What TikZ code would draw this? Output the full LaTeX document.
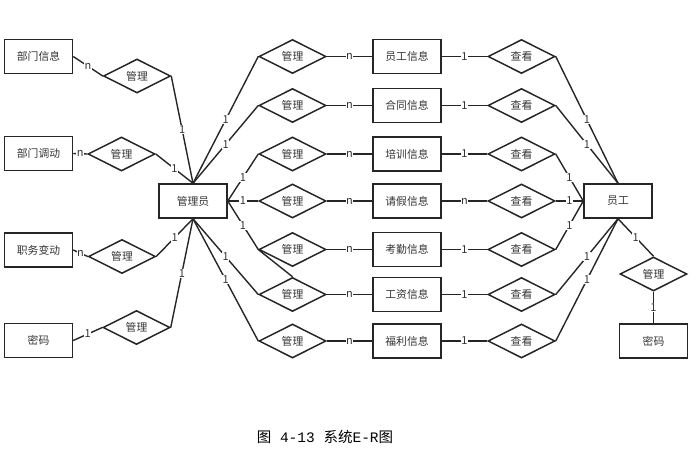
\documentclass[tikz,border=0pt]{standalone}
\usepackage{fontspec}
\setmainfont{Noto Sans CJK SC}
\newfontfamily\capmono{Liberation Mono}
\usetikzlibrary{shapes.geometric}
\definecolor{erline}{HTML}{262626}
\definecolor{ertext}{HTML}{333333}
\tikzset{
  entity/.style={draw=erline, line width=1.5pt, minimum width=68pt, minimum height=34pt,
    inner sep=0pt, text=ertext, font=\fontsize{10.8}{12}\selectfont},
  rel/.style={draw=erline, diamond, aspect=2, line width=1.5pt, minimum width=67pt,
    minimum height=34pt, inner sep=0pt, text=ertext, font=\fontsize{10.8}{12}\selectfont},
  card/.style={fill=white, inner sep=0.6pt, text=ertext, font=\fontsize{11}{12}\selectfont},
}
\begin{document}
\begin{tikzpicture}[x=1pt, y=-1pt, line width=1.4pt, draw=erline]
\useasboundingbox (0,0) rectangle (698,472);
% left side
\node[entity] (dept) at (38.5,56.5) {部门信息};
\node[entity] (trans) at (38.5,153.5) {部门调动};
\node[entity] (post) at (38.5,250) {职务变动};
\node[entity] (pwdA) at (38.5,340.5) {密码};
\node[rel] (rA) at (137,76) {管理};
\node[rel] (rB) at (121.5,154) {管理};
\node[rel] (rC) at (122,256.5) {管理};
\node[rel] (rD) at (136.5,327.5) {管理};
\node[entity] (admin) at (193,201) {管理员};
% middle column
\node[rel] (m1) at (292.5,56.5) {管理};
\node[rel] (m2) at (292.5,105.5) {管理};
\node[rel] (m3) at (292.5,154) {管理};
\node[rel] (m4) at (292.5,201) {管理};
\node[rel] (m5) at (292.5,249.5) {管理};
\node[rel] (m6) at (292.5,294.5) {管理};
\node[rel] (m7) at (292.5,341) {管理};
\node[entity] (e1) at (407,56.5) {员工信息};
\node[entity] (e2) at (407,105.5) {合同信息};
\node[entity] (e3) at (407,154) {培训信息};
\node[entity] (e4) at (407,201) {请假信息};
\node[entity] (e5) at (407,249.5) {考勤信息};
\node[entity] (e6) at (407,294.5) {工资信息};
\node[entity] (e7) at (407,341) {福利信息};
\node[rel] (v1) at (521.5,56.5) {查看};
\node[rel] (v2) at (521.5,105.5) {查看};
\node[rel] (v3) at (521.5,154) {查看};
\node[rel] (v4) at (521.5,201) {查看};
\node[rel] (v5) at (521.5,249.5) {查看};
\node[rel] (v6) at (521.5,294.5) {查看};
\node[rel] (v7) at (521.5,341) {查看};
% right side
\node[entity] (emp) at (618,201) {员工};
\node[rel] (rE) at (653.5,274) {管理};
\node[entity] (pwdB) at (653.5,341) {密码};
\node[text=black, font=\fontsize{14.5}{16}\selectfont] (caption) at (325,437)
  {图{\capmono\ 4-13 }系统{\capmono E-R}图};

\draw (dept.east) -- node[card] {n} (rA.west);
\draw (rA.east) -- node[card] {1} (admin.north);
\draw (trans.east) -- node[card] {n} (rB.west);
\draw (rB.east) -- node[card] {1} (admin.north);
\draw (post.east) -- node[card] {n} (rC.west);
\draw (rC.east) -- node[card] {1} (admin.south);
\draw (pwdA.east) -- node[card] {1} (rD.west);
\draw (rD.east) -- node[card] {1} (admin.south);

\draw (admin.north) -- node[card] {1} (m1.west);
\draw (admin.north) -- node[card] {1} (m2.west);
\draw (admin.east) -- node[card] {1} (m3.west);
\draw (admin.east) -- node[card] {1} (m4.west);
\draw (admin.east) -- node[card] {1} (m5.west);
\draw (m5.west) -- (m6.north);
\draw (admin.south) -- node[card] {1} (m6.west);
\draw (admin.south) -- node[card] {1} (m7.west);

\draw (m1.east) -- node[card] {n} (e1.west);
\draw (m2.east) -- node[card] {n} (e2.west);
\draw (m3.east) -- node[card] {n} (e3.west);
\draw (m4.east) -- node[card] {n} (e4.west);
\draw (m5.east) -- node[card] {n} (e5.west);
\draw (m6.east) -- node[card] {n} (e6.west);
\draw (m7.east) -- node[card] {n} (e7.west);

\draw (e1.east) -- node[card] {1} (v1.west);
\draw (e2.east) -- node[card] {1} (v2.west);
\draw (e3.east) -- node[card] {1} (v3.west);
\draw (e4.east) -- node[card] {n} (v4.west);
\draw (e5.east) -- node[card] {1} (v5.west);
\draw (e6.east) -- node[card] {1} (v6.west);
\draw (e7.east) -- node[card] {1} (v7.west);

\draw (v1.east) -- node[card] {1} (emp.north);
\draw (v2.east) -- node[card] {1} (emp.north);
\draw (v3.east) -- node[card] {1} (emp.west);
\draw (v4.east) -- node[card] {1} (emp.west);
\draw (v5.east) -- node[card] {1} (emp.west);
\draw (v6.east) -- node[card] {1} (emp.south);
\draw (v7.east) -- node[card] {1} (emp.south);
\draw (emp.south) -- node[card] {1} (rE.north);
\draw (rE.south) -- node[card] {1} (pwdB.north);
\end{tikzpicture}
\end{document}
